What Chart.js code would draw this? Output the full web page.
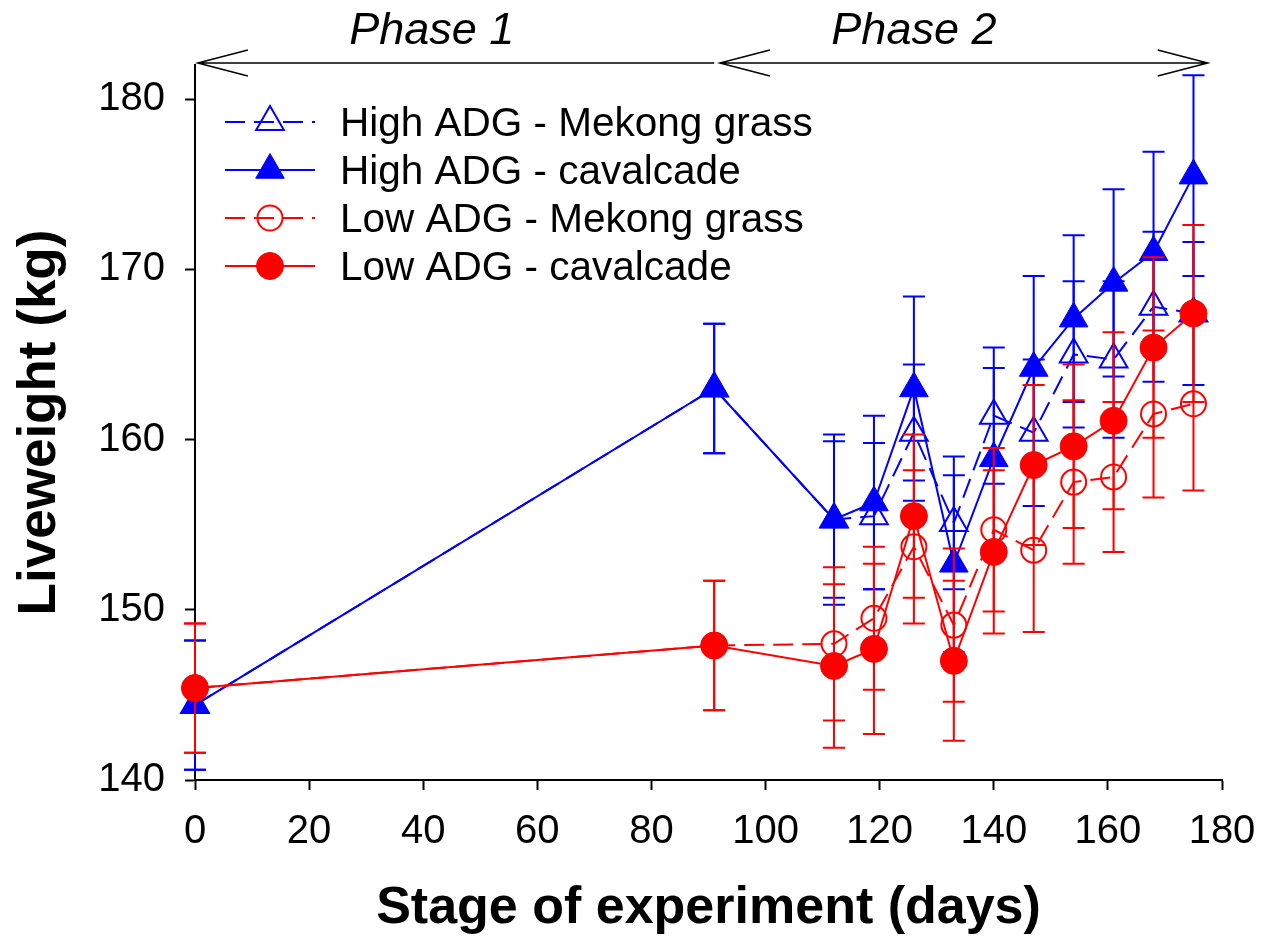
<!DOCTYPE html>
<html>
<head>
<meta charset="utf-8">
<script src="https://cdn.jsdelivr.net/npm/chart.js@4.4.1/dist/chart.umd.min.js"></script>
<style>
  body { margin: 0; background: #fff; }
  #wrap { width: 1267px; height: 938px; }
</style>
</head>
<body>
<div id="wrap"><canvas id="chart" width="1267" height="938"></canvas></div>
<script>
// days of weighing
const days = [0, 91, 112, 119, 126, 133, 140, 147, 154, 161, 168, 175];

// liveweight means (kg) and error bars
const highMekong    = [144.4, 163.0, 155.3, 155.5, 160.4, 155.1, 161.4, 160.4, 165.0, 164.7, 167.8, 167.4];
const highMekongErr = [3.8, 3.8, 4.6, 4.3, 4.0, 3.9, 4.0, 4.3, 4.3, 4.6, 4.4, 4.2];
const highCav       = [144.4, 163.0, 155.3, 156.3, 163.0, 152.7, 158.9, 164.2, 167.1, 169.2, 171.0, 175.5];
const highCavErr    = [3.8, 3.8, 5.0, 5.1, 5.4, 5.2, 5.3, 5.4, 4.9, 5.5, 5.9, 5.9];
const lowMekong     = [145.4, 147.9, 148.0, 149.5, 153.7, 149.1, 154.7, 153.5, 157.5, 157.8, 161.5, 162.1];
const lowMekongErr  = [3.8, 3.8, 4.5, 4.2, 4.5, 4.5, 4.8, 4.8, 4.8, 4.4, 4.9, 5.1];
const lowCav        = [145.4, 147.9, 146.7, 147.7, 155.5, 147.0, 153.4, 158.5, 159.6, 161.1, 165.4, 167.4];
const lowCavErr     = [3.8, 3.8, 4.8, 5.0, 4.8, 4.7, 4.8, 4.7, 4.8, 5.2, 5.3, 5.2];

const seriesLabels = ['High ADG - Mekong grass', 'High ADG - cavalcade', 'Low ADG - Mekong grass', 'Low ADG - cavalcade'];

// axis ticks
const xTicks = [0, 20, 40, 60, 80, 100, 120, 140, 160, 180];
const yTicks = [140, 150, 160, 170, 180];

// phases (day ranges) and where their names sit
const phaseNames = ['Phase 1', 'Phase 2'];
const phaseFrom = [0.5, 92];
const phaseTo = [91, 177.5];
const phaseLabelDay = [41.5, 126];

const blue = 'rgb(0, 0, 255)';
const red = 'rgb(255, 0, 0)';
const FONT = '"Liberation Sans", Arial, sans-serif';

function makeSeries(label, values, errors, color, style, filled, dashed, order) {
    const isTri = style === 'triangle';
    return {
        label: label,
        data: days.map((d, i) => ({ x: d, y: values[i] })),
        errors: errors,
        borderColor: color,
        backgroundColor: color,
        borderWidth: 2,
        borderDash: dashed ? [20, 9] : [],
        pointStyle: style,
        pointRadius: isTri ? (filled ? 16.5 : 16) : (filled ? 13.5 : 12.5),
        pointHoverRadius: isTri ? 16 : 13,
        pointBackgroundColor: filled ? color : 'rgba(0,0,0,0)',
        pointBorderColor: color,
        pointBorderWidth: filled ? 1 : 2,
        filled: filled,
        dashed: dashed,
        showLine: true,
        tension: 0,
        clip: false,
        order: order
    };
}

const datasets = [
    makeSeries(seriesLabels[0], highMekong, highMekongErr, blue, 'triangle', false, true, 3),
    makeSeries(seriesLabels[1], highCav, highCavErr, blue, 'triangle', true, false, 2),
    makeSeries(seriesLabels[2], lowMekong, lowMekongErr, red, 'circle', false, true, 1),
    makeSeries(seriesLabels[3], lowCav, lowCavErr, red, 'circle', true, false, 0)
];

// vertical error bars, drawn just under each dataset's own line and markers
const errorBars = {
    id: 'errorBars',
    beforeDatasetDraw(chart, args) {
        const ds = chart.data.datasets[args.index];
        if (!ds.errors) return;
        const y = chart.scales.y;
        const ctx = chart.ctx;
        ctx.save();
        ctx.strokeStyle = ds.borderColor;
        ctx.lineWidth = 2;
        ctx.setLineDash([]);
        args.meta.data.forEach((pt, i) => {
            const v = ds.data[i].y;
            const top = y.getPixelForValue(v + ds.errors[i]);
            const bottom = y.getPixelForValue(v - ds.errors[i]);
            ctx.beginPath();
            ctx.moveTo(pt.x, top);
            ctx.lineTo(pt.x, bottom);
            ctx.moveTo(pt.x - 11, top);
            ctx.lineTo(pt.x + 11, top);
            ctx.moveTo(pt.x - 11, bottom);
            ctx.lineTo(pt.x + 11, bottom);
            ctx.stroke();
        });
        ctx.restore();
    }
};

// legend box in the top-left of the plot, plus the phase arrows above it
const extras = {
    id: 'extras',
    afterDraw(chart) {
        const ctx = chart.ctx;
        const x = chart.scales.x;
        ctx.save();

        // legend
        const rowY = [122, 170, 218, 266];
        chart.data.datasets.forEach((ds, i) => {
            const yy = rowY[i];
            ctx.strokeStyle = ds.borderColor;
            ctx.lineWidth = 2;
            ctx.setLineDash(ds.dashed ? [20, 9] : []);
            ctx.beginPath();
            ctx.moveTo(225, yy);
            ctx.lineTo(315, yy);
            ctx.stroke();
            ctx.setLineDash([]);
            ctx.fillStyle = ds.pointBackgroundColor;
            ctx.lineWidth = ds.pointBorderWidth;
            Chart.helpers.drawPoint(ctx, {
                pointStyle: ds.pointStyle,
                radius: ds.pointRadius,
                borderWidth: ds.pointBorderWidth,
                rotation: 0
            }, 270, yy);
            ctx.fillStyle = '#000';
            ctx.font = '40.5px ' + FONT;
            ctx.textAlign = 'left';
            ctx.textBaseline = 'middle';
            ctx.fillText(ds.label, 340, yy + 3);
        });

        // phase arrows
        const arrowY = chart.chartArea.top - 2;
        ctx.strokeStyle = '#000';
        ctx.lineWidth = 1.5;
        phaseNames.forEach((name, i) => {
            const a = x.getPixelForValue(phaseFrom[i]);
            const b = x.getPixelForValue(phaseTo[i]);
            ctx.beginPath();
            ctx.moveTo(a, arrowY);
            ctx.lineTo(b, arrowY);
            ctx.moveTo(a + 50, arrowY - 13);
            ctx.lineTo(a, arrowY);
            ctx.lineTo(a + 50, arrowY + 13);
            if (i === phaseNames.length - 1) {
                ctx.moveTo(b - 50, arrowY - 13);
                ctx.lineTo(b, arrowY);
                ctx.lineTo(b - 50, arrowY + 13);
            }
            ctx.stroke();
            ctx.fillStyle = '#000';
            ctx.font = 'italic 45px ' + FONT;
            ctx.textAlign = 'center';
            ctx.textBaseline = 'alphabetic';
            ctx.fillText(name, x.getPixelForValue(phaseLabelDay[i]), 44);
        });
        ctx.restore();
    }
};

const chart = new Chart(document.getElementById('chart'), {
    type: 'scatter',
    data: { datasets: datasets },
    options: {
        responsive: false,
        animation: false,
        events: [],
        layout: { autoPadding: false, padding: { left: 0, top: 65, right: 45, bottom: 0 } },
        plugins: {
            legend: { display: false },
            tooltip: { enabled: false }
        },
        scales: {
            x: {
                type: 'linear',
                min: 0,
                max: 180,
                afterFit: (scale) => {
                    scale.height = 158;
                    scale.paddingLeft = 0;
                    scale.paddingRight = 0;
                },
                afterBuildTicks: (scale) => { scale.ticks = xTicks.map(v => ({ value: v })); },
                grid: { drawOnChartArea: false, tickLength: 10, tickWidth: 2, tickColor: '#000' },
                border: { display: true, color: '#000', width: 2 },
                ticks: { color: '#000', padding: 18, font: { family: FONT, size: 40 } },
                title: {
                    display: true,
                    text: 'Stage of experiment (days)',
                    color: '#000',
                    padding: { top: 0, bottom: 3 },
                    font: { family: FONT, size: 52, weight: 'bold', lineHeight: 1 }
                }
            },
            y: {
                type: 'linear',
                min: 140,
                max: 182,
                afterFit: (scale) => {
                    scale.width = 195;
                    scale.paddingTop = 0;
                    scale.paddingBottom = 0;
                },
                afterBuildTicks: (scale) => { scale.ticks = yTicks.map(v => ({ value: v })); },
                grid: { drawOnChartArea: false, tickLength: 10, tickWidth: 2, tickColor: '#000' },
                border: { display: true, color: '#000', width: 2 },
                ticks: { color: '#000', padding: 20, font: { family: FONT, size: 40 } },
                title: {
                    display: true,
                    text: 'Liveweight (kg)',
                    color: '#000',
                    padding: { top: 14, bottom: 0 },
                    font: { family: FONT, size: 53, weight: 'bold', lineHeight: 1 }
                }
            }
        }
    },
    plugins: [errorBars, extras]
});
</script>
</body>
</html>
